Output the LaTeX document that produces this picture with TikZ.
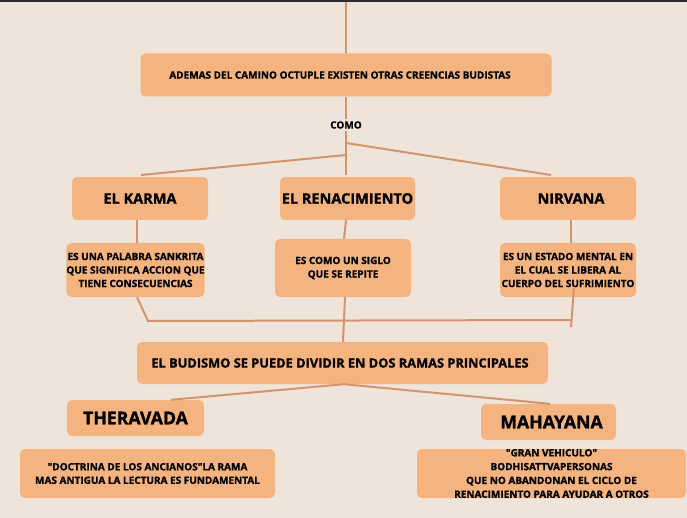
\documentclass[tikz,border=0pt]{standalone}
\usepackage{fontspec}
\setmainfont{Open Sans}[BoldFeatures={FakeBold=1.2}]
\definecolor{bgpaper}{HTML}{EFE4DA}
\definecolor{boxfill}{HTML}{F5B47F}
\definecolor{linkcol}{HTML}{D4936F}
\definecolor{topbar}{HTML}{2B2B2B}
\tikzset{
  box/.style={fill=boxfill, rounded corners=5pt, inner sep=0pt, align=center,
    font=\bfseries\fontsize{10}{13.5}\selectfont},
  head/.style={box, font=\bfseries\fontsize{14.5}{16}\selectfont},
  bighead/.style={box, font=\bfseries\fontsize{17.7}{20}\selectfont},
  link/.style={draw=linkcol, line width=2pt}
}
\begin{document}
\begin{tikzpicture}[x=1pt,y=-1pt]
        % paper and top bar
        \fill [bgpaper] (0,0) rectangle (687,518);
        \fill [topbar] (0,0) rectangle (687,2);
        \useasboundingbox (0,0) rectangle (687,518);

        % boxes
        \node [box, minimum width=411, minimum height=43] (creencias) at (346,75) {ADEMAS DEL CAMINO OCTUPLE EXISTEN OTRAS CREENCIAS BUDISTAS\hspace{12pt}};
        \node [font=\bfseries\fontsize{10}{11}\selectfont, inner sep=2pt] (como) at (346,125) {COMO};

        \node [head, minimum width=136, minimum height=43] (karma) at (140,198.5) {EL KARMA};
        \node [head, minimum width=135, minimum height=43] (renac) at (347.5,198.5) {\raisebox{-3pt}{EL RENACIMIENTO}};
        \node [head, minimum width=136, minimum height=43] (nirvana) at (568,198.5) {\hspace{6pt}NIRVANA};

        \node [box, minimum width=137, minimum height=54] (karmadef) at (135.5,270) {ES UNA PALABRA SANKRITA\\QUE SIGNIFICA ACCION QUE\\TIENE CONSECUENCIAS};
        \node [box, minimum width=136, minimum height=58] (renacdef) at (343,268) {ES COMO UN SIGLO\\QUE SE REPITE};
        \node [box, minimum width=136, minimum height=54] (nirvanadef) at (568,270) {ES UN ESTADO MENTAL EN\\EL CUAL SE LIBERA AL\\CUERPO DEL SUFRIMIENTO};

        \node [box, minimum width=411, minimum height=42, font=\bfseries\fontsize{12.8}{14}\selectfont] (ramas) at (342.5,363) {EL BUDISMO SE PUEDE DIVIDIR EN DOS RAMAS PRINCIPALES\hspace{5pt}};
        \node [bighead, minimum width=137, minimum height=36] (thera) at (135.5,418) {THERAVADA};
        \node [bighead, minimum width=135, minimum height=36] (maha) at (548.5,422) {\hspace{6pt}MAHAYANA};
        \node [box, minimum width=255, minimum height=49] (theradef) at (147.5,473.5) {\textquotedbl DOCTRINA DE LOS ANCIANOS\textquotedbl LA RAMA\\MAS ANTIGUA LA LECTURA ES FUNDAMENTAL};
        \node [box, minimum width=269, minimum height=49, font=\bfseries\fontsize{10}{13.8}\selectfont] (mahadef) at (551.5,473.5) {\textquotedbl GRAN VEHICULO\textquotedbl\\BODHISATTVAPERSONAS\\QUE NO ABANDONAN EL CICLO DE\\RENACIMIENTO PARA AYUDAR A OTROS};

        % connectors
        \coordinate (tope) at (346,2);
        \coordinate (forkA) at (346,143);
        \coordinate (forkB) at (346,155);
        \coordinate (endA) at (551,175);
        \coordinate (endB) at (141,175);
        \coordinate (endC) at (346,175);
        \coordinate (bendL) at (148,321);
        \coordinate (bendR) at (571,320);
        \coordinate (tailR) at (571,327);
        \draw [link] (tope) -- (creencias.north);
        \draw [link] (creencias.south) -- (como.north);
        \draw [link] (como.south) -- (endC);
        \draw [link] (forkA) -- (endA);
        \draw [link] (forkB) -- (endB);
        \draw [link] ([xshift=-3]karma.south) -- ([xshift=1.5]karmadef.north);
        \draw [link] ([xshift=-1.5]renac.south) -- ([xshift=1]renacdef.north);
        \draw [link] ([xshift=3]nirvana.south) -- ([xshift=3]nirvanadef.north);
        \draw [link] ([xshift=1.5]karmadef.south) -- (bendL) -- (bendR);
        \draw [link] ([xshift=6,yshift=9]nirvanadef.south) -- (tailR);
        \draw [link] ([xshift=2]renacdef.south) -- ([xshift=0.5]ramas.north);
        \draw [link] ([xshift=1.5]ramas.south) -- ([xshift=35.5]thera.north);
        \draw [link] ([xshift=1.5]ramas.south) -- ([xshift=1.5]maha.north);

    \end{tikzpicture}
\end{document}
